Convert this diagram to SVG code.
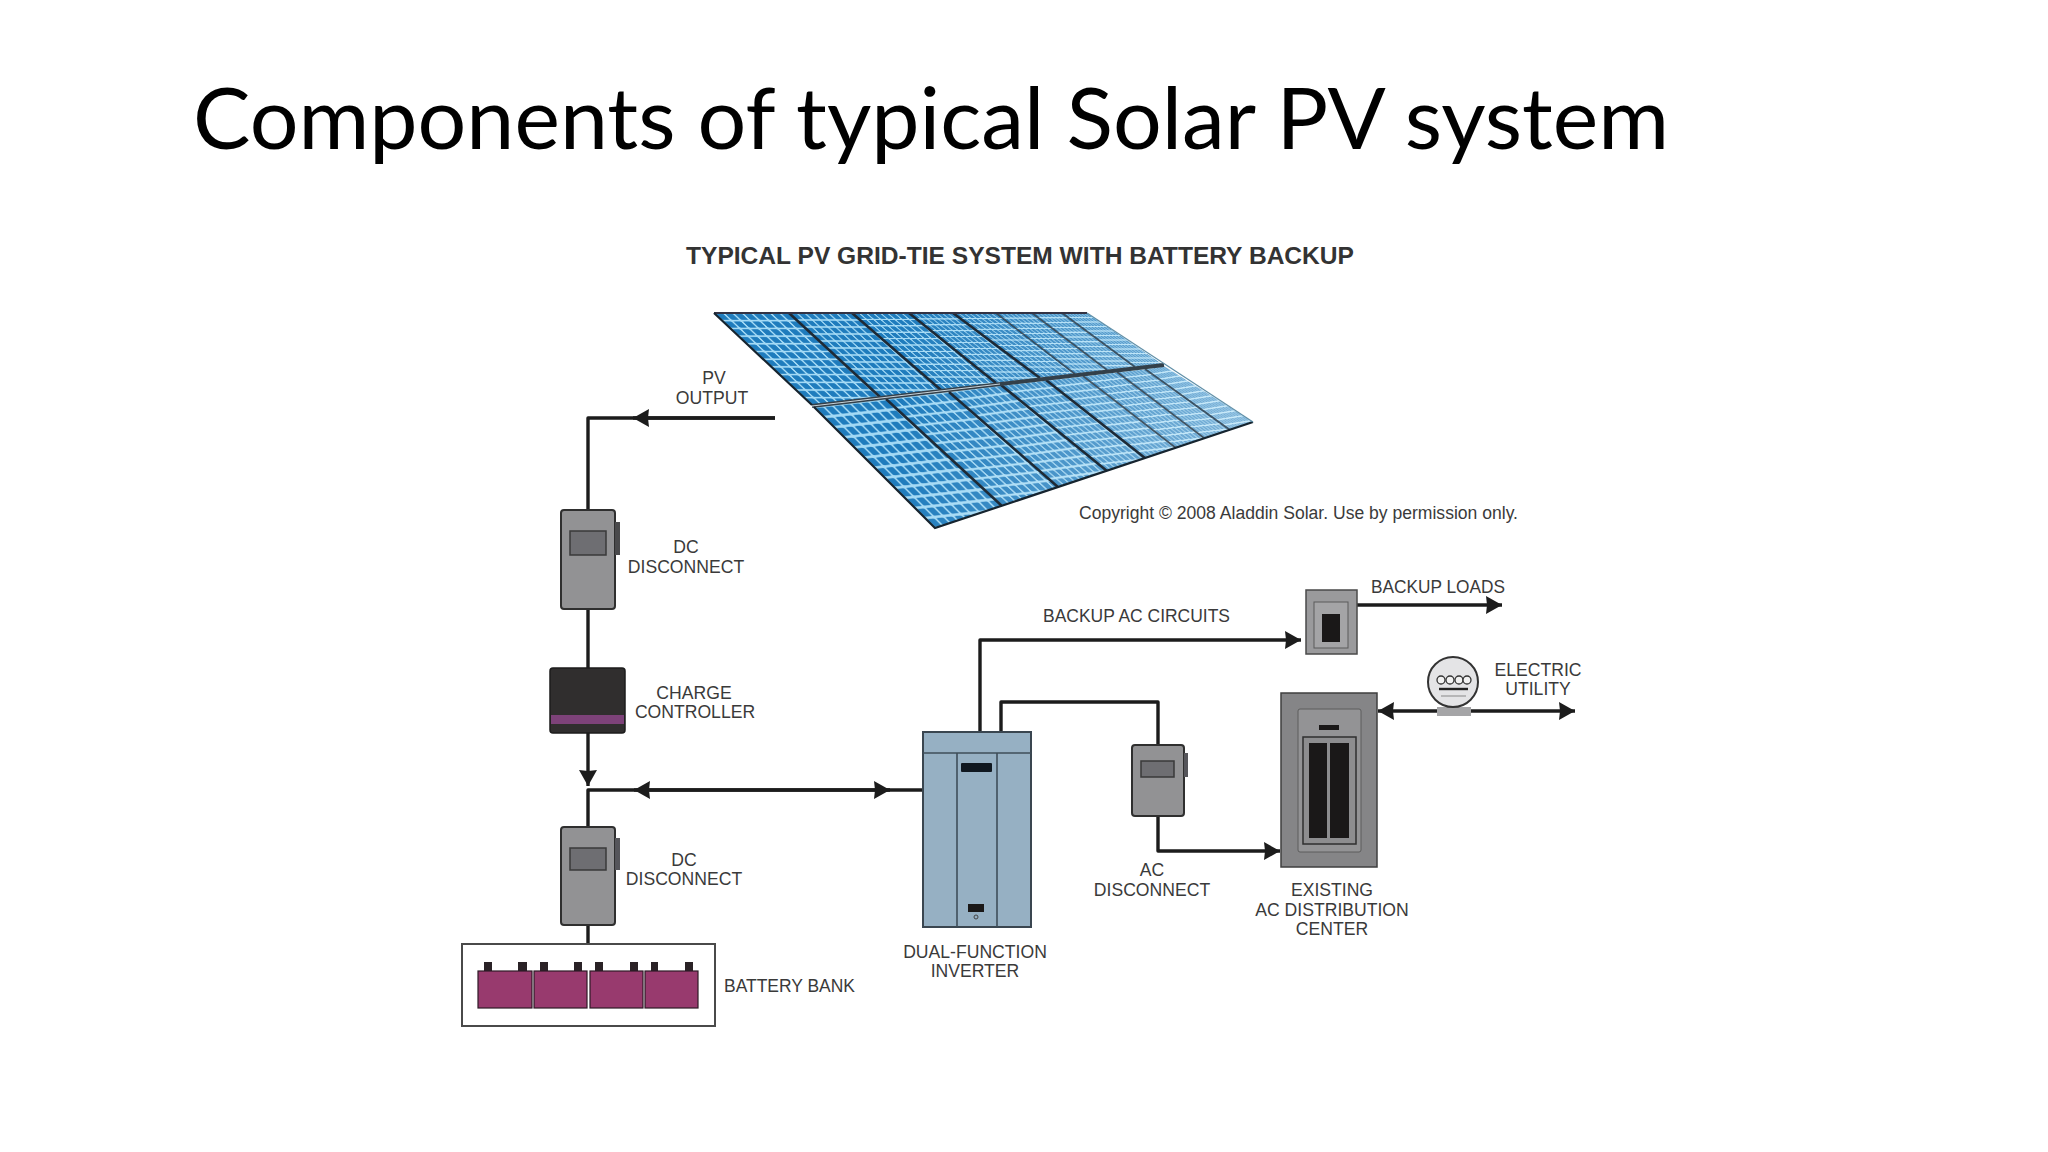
<svg xmlns="http://www.w3.org/2000/svg" xmlns:xlink="http://www.w3.org/1999/xlink" width="2048" height="1152" viewBox="0 0 2048 1152">
<style>
text{font-family:"Liberation Sans",Arial,sans-serif;font-size:17.6px;fill:#3a3a3a}
.c{text-anchor:middle}
.wire{fill:none;stroke:#1c1c1c;stroke-width:3.4;stroke-linejoin:round}
.box{fill:#929294;stroke:#2f2f2f;stroke-width:2}
.win{fill:#6e6e72;stroke:#3a3a3a;stroke-width:1.5}
.bat{fill:#983a6e;stroke:#2e1a26;stroke-width:1.2}
.term{fill:#2a2226}
.inv{fill:none;stroke:#3f4e5a;stroke-width:1.6}
.div{fill:none;stroke:#1e2a36;stroke-width:2.6}
.dk{fill:#1a1818}
</style>
<defs>
<marker id="a" markerUnits="userSpaceOnUse" markerWidth="18" markerHeight="20" refX="16" refY="9" orient="auto"><path d="M0 0L16 9L0 18L1 9Z" fill="#1c1c1c"/></marker>
<pattern id="cell" width="10" height="10" patternUnits="userSpaceOnUse"><rect width="10" height="10" fill="#a4daf5"/><rect x="1.1" y="1.1" width="7.8" height="7.8" rx="1" fill="#1f7cbd"/></pattern>
<pattern id="p1" xlink:href="#cell" patternTransform="matrix(.94 0 .82 .77 714 313)"/>
<pattern id="p2" xlink:href="#cell" patternTransform="matrix(.79 0 .76 .70 789 313)"/>
<pattern id="p3" xlink:href="#cell" patternTransform="matrix(.71 0 .74 .64 852 313)"/>
<pattern id="p4" xlink:href="#cell" patternTransform="matrix(.55 0 .73 .59 909 313)"/>
<pattern id="p5" xlink:href="#cell" patternTransform="matrix(.54 0 .73 .54 953 313)"/>
<pattern id="p6" xlink:href="#cell" patternTransform="matrix(.45 0 .66 .51 996 313)"/>
<pattern id="p7" xlink:href="#cell" patternTransform="matrix(.375 0 .63 .48 1032 313)"/>
<pattern id="p8" xlink:href="#cell" patternTransform="matrix(.31 0 .61 .45 1062 313)"/>
<pattern id="q1" xlink:href="#cell" patternTransform="matrix(.9 -.1 1.01 1.01 814 407)"/>
<pattern id="q2" xlink:href="#cell" patternTransform="matrix(.79 -.088 .97 .89 886 399)"/>
<pattern id="q3" xlink:href="#cell" patternTransform="matrix(.65 -.088 .91 .79 949 392)"/>
<pattern id="q4" xlink:href="#cell" patternTransform="matrix(.56 -.062 .88 .72 1001 385)"/>
<pattern id="q5" xlink:href="#cell" patternTransform="matrix(.46 -.05 .83 .65 1046 380)"/>
<pattern id="q6" xlink:href="#cell" patternTransform="matrix(.425 -.05 .78 .6 1083 376)"/>
<pattern id="q7" xlink:href="#cell" patternTransform="matrix(.35 -.038 .73 .55 1117 372)"/>
<pattern id="q8" xlink:href="#cell" patternTransform="matrix(.24 -.038 .71 .51 1145 369)"/>
<linearGradient id="fade" gradientUnits="userSpaceOnUse" x1="900" y1="0" x2="1230" y2="0"><stop offset="0" stop-color="#fff" stop-opacity="0"/><stop offset="1" stop-color="#fff" stop-opacity=".4"/></linearGradient>
</defs>
<rect width="2048" height="1152" fill="#fff"/>
<text x="193" y="149" textLength="1476" lengthAdjust="spacingAndGlyphs" style="font-family:Lato,'Open Sans',sans-serif;font-size:85px;fill:#000">Components of typical Solar PV system</text>
<text x="686" y="264" textLength="668" lengthAdjust="spacingAndGlyphs" style="font-weight:bold;font-size:24px;fill:#333">TYPICAL PV GRID-TIE SYSTEM WITH BATTERY BACKUP</text>
<g id="solar-array">
<polygon fill="url(#p1)" points="714,313 789,313 880,397 812,405"/>
<polygon fill="url(#p2)" points="789,313 852,313 941,390 880,397"/>
<polygon fill="url(#p3)" points="852,313 909,313 996,383 941,390"/>
<polygon fill="url(#p4)" points="909,313 953,313 1040,378 996,383"/>
<polygon fill="url(#p5)" points="953,313 996,313 1075,374 1040,378"/>
<polygon fill="url(#p6)" points="996,313 1032,313 1107,370 1075,374"/>
<polygon fill="url(#p7)" points="1032,313 1062,313 1135,367 1107,370"/>
<polygon fill="url(#p8)" points="1062,313 1087,313 1162,364 1135,367"/>
<polygon fill="url(#q1)" points="814,407 886,399 1002,506 935,528"/>
<polygon fill="url(#q2)" points="886,399 949,392 1058,487 1002,506"/>
<polygon fill="url(#q3)" points="949,392 1001,385 1107,471 1058,487"/>
<polygon fill="url(#q4)" points="1001,385 1046,380 1145,458 1107,471"/>
<polygon fill="url(#q5)" points="1046,380 1083,376 1176,448 1145,458"/>
<polygon fill="url(#q6)" points="1083,376 1117,372 1204,438 1176,448"/>
<polygon fill="url(#q7)" points="1117,372 1145,369 1230,430 1204,438"/>
<polygon fill="url(#q8)" points="1145,369 1164,366 1253,422 1230,430"/>
<polygon fill="url(#fade)" points="714,313 1087,313 1162,364 1253,422 935,528 812,405"/>
<path class="div" d="M789 313L880 397M852 313L941 390M909 313L996 383M953 313L1040 378" />
<path class="div" style="stroke-width:1.6;stroke-opacity:.75" d="M996 313L1075 374M1032 313L1107 370M1062 313L1135 367"/>
<path class="div" d="M886 399L1002 506M949 392L1058 487M1001 385L1107 471M1046 380L1145 458"/>
<path class="div" style="stroke-width:1.6;stroke-opacity:.75" d="M1083 376L1176 448M1117 372L1204 438M1145 369L1230 430"/>
<path d="M812 406L1164 365" fill="none" stroke="#33404a" stroke-width="4"/>
<path d="M812 406L1000 384" fill="none" stroke="#c8d2d8" stroke-width="1"/>
<path d="M714 313H1087" fill="none" stroke="#334" stroke-width="1.8"/>
<path d="M714 313L812 405M814 407L935 528L1253 422" fill="none" stroke="#16242f" stroke-width="2.2"/>
<path d="M1087 313L1253 422" fill="none" stroke="#5f8fa8" stroke-width="1.2"/>
</g>
<g id="connectors">
<path class="wire" d="M775 418H588V510"/>
<path class="wire" marker-end="url(#a)" d="M775 418H633"/>
<path class="wire" d="M588 609V668"/>
<path class="wire" marker-end="url(#a)" d="M588 733V786"/>
<path class="wire" d="M634 790H588V827M588 925V944"/>
<path class="wire" marker-end="url(#a)" d="M923 790H634"/>
<path class="wire" marker-end="url(#a)" d="M634 790H890"/>
<path class="wire" marker-end="url(#a)" d="M980 732V640H1301"/>
<path class="wire" d="M1001 732V702H1158V745"/>
<path class="wire" marker-end="url(#a)" d="M1158 816V851H1280"/>
<path class="wire" marker-end="url(#a)" d="M1357 605H1502"/>
<path class="wire" marker-end="url(#a)" d="M1453 711H1378"/>
<path class="wire" marker-end="url(#a)" d="M1453 711H1575"/>
</g>
<g id="dc-disconnect-1">
<rect class="box" x="561" y="510" width="54" height="99" rx="3"/>
<rect class="win" x="570" y="531" width="36" height="24"/>
<rect x="615" y="522" width="5" height="33" fill="#4a4a4c"/>
<text class="c" x="686" y="553">DC</text><text class="c" x="686" y="573">DISCONNECT</text>
</g>
<g id="charge-controller">
<rect x="550" y="668" width="75" height="65" rx="3" fill="#302e2e" stroke="#1c1c1c" stroke-width="1.5"/>
<rect x="551" y="715" width="73" height="9" fill="#7d4279"/>
<text class="c" x="694" y="699">CHARGE</text><text class="c" x="695" y="718">CONTROLLER</text>
</g>
<g id="dc-disconnect-2">
<rect class="box" x="561" y="827" width="54" height="98" rx="3"/>
<rect class="win" x="570" y="848" width="36" height="22"/>
<rect x="615" y="838" width="5" height="32" fill="#55555a"/>
<text class="c" x="684" y="866">DC</text><text class="c" x="684" y="885">DISCONNECT</text>
</g>
<g id="battery-bank">
<rect x="462" y="944" width="253" height="82" fill="#fff" stroke="#4a4a4a" stroke-width="2"/>
<rect class="term" x="484" y="962" width="8" height="9"/><rect class="term" x="518" y="962" width="9" height="9"/>
<rect class="term" x="540" y="962" width="8" height="9"/><rect class="term" x="574" y="962" width="8" height="9"/>
<rect class="term" x="595" y="962" width="8" height="9"/><rect class="term" x="630" y="962" width="8" height="9"/>
<rect class="term" x="651" y="962" width="7" height="9"/><rect class="term" x="685" y="962" width="8" height="9"/>
<rect class="bat" x="478" y="971" width="54" height="37"/>
<rect class="bat" x="534" y="971" width="53" height="37"/>
<rect class="bat" x="590" y="971" width="53" height="37"/>
<rect class="bat" x="645" y="971" width="53" height="37"/>
<text x="724" y="992" textLength="131" lengthAdjust="spacingAndGlyphs">BATTERY BANK</text>
</g>
<g id="inverter">
<rect x="923" y="732" width="108" height="195" fill="#96b0c3" stroke="#3a4650" stroke-width="2"/>
<path class="inv" d="M923 753H1031M957 753V927M997 753V927"/>
<rect x="961" y="763" width="31" height="9" rx="1" fill="#101820"/>
<rect class="dk" x="968" y="904" width="16" height="8"/>
<circle cx="976" cy="917" r="2" fill="none" stroke="#444" stroke-width="1"/>
<text class="c" x="975" y="958">DUAL-FUNCTION</text><text class="c" x="975" y="977">INVERTER</text>
</g>
<g id="ac-disconnect">
<rect class="box" x="1132" y="745" width="52" height="71" rx="3"/>
<rect class="win" x="1141" y="761" width="33" height="16"/>
<rect x="1184" y="753" width="4" height="24" fill="#55555a"/>
<text class="c" x="1152" y="876">AC</text><text class="c" x="1152" y="896">DISCONNECT</text>
</g>
<g id="backup-panel">
<rect x="1306" y="590" width="51" height="64" fill="#9a9a9c" stroke="#4a4a4a" stroke-width="1.5"/>
<rect x="1314" y="602" width="34" height="46" fill="#a4a4a6" stroke="#5a5a5a" stroke-width="1"/>
<rect class="dk" x="1322" y="614" width="18" height="28"/>
<text x="1043" y="622" textLength="187" lengthAdjust="spacingAndGlyphs">BACKUP AC CIRCUITS</text>
<text x="1371" y="593" textLength="134" lengthAdjust="spacingAndGlyphs">BACKUP LOADS</text>
</g>
<g id="distribution-center">
<rect x="1281" y="693" width="96" height="174" fill="#858587" stroke="#3f3f3f" stroke-width="1.5"/>
<rect x="1298" y="709" width="63" height="143" rx="2" fill="#939395" stroke="#5c5c5c" stroke-width="1"/>
<rect class="dk" x="1319" y="725" width="20" height="5"/>
<rect x="1303" y="737" width="53" height="107" fill="#8d8d8f" stroke="#2f2f2f" stroke-width="1.5"/>
<rect class="dk" x="1309" y="743" width="18" height="95"/>
<rect class="dk" x="1330" y="743" width="19" height="95"/>
<text class="c" x="1332" y="896">EXISTING</text><text class="c" x="1332" y="916">AC DISTRIBUTION</text><text class="c" x="1332" y="935">CENTER</text>
</g>
<g id="utility-meter">
<rect x="1437" y="707" width="34" height="9" fill="#a5a5a7"/>
<circle cx="1453" cy="682" r="25" fill="#e4e4e6" stroke="#333" stroke-width="2"/>
<g fill="#f2f2f2" stroke="#333" stroke-width="1.3"><circle cx="1441" cy="680" r="4"/><circle cx="1450" cy="680" r="4"/><circle cx="1459" cy="680" r="4"/><circle cx="1467" cy="680" r="4"/></g>
<path d="M1439 689H1468" stroke="#222" stroke-width="2.4"/><path d="M1441 696H1466" stroke="#888" stroke-width="1"/>
<text class="c" x="1538" y="676">ELECTRIC</text><text class="c" x="1538" y="695">UTILITY</text>
</g>
<text class="c" x="714" y="384">PV</text><text class="c" x="712" y="404">OUTPUT</text>
<text x="1079" y="519" textLength="439" lengthAdjust="spacingAndGlyphs">Copyright © 2008 Aladdin Solar. Use by permission only.</text>
</svg>
